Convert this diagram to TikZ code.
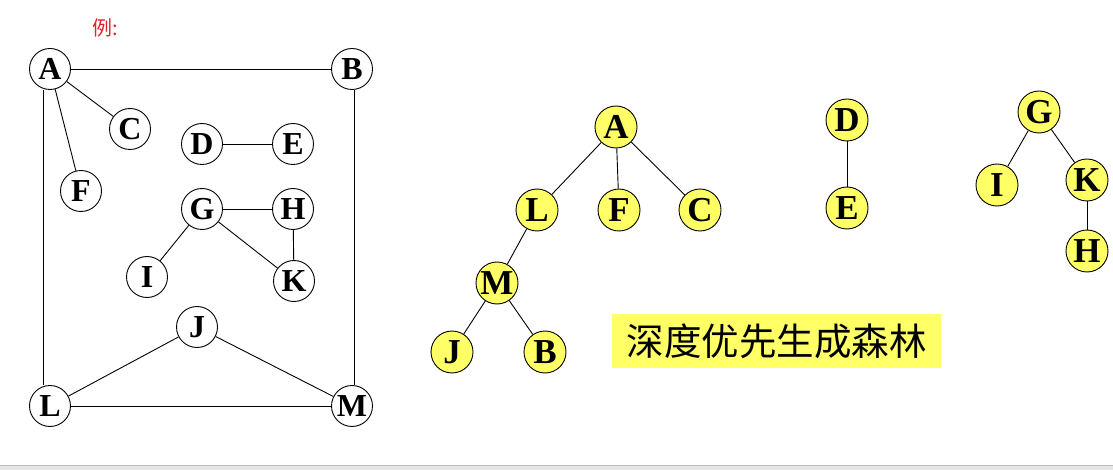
\documentclass[tikz,border=0pt]{standalone}
\usepackage{fontspec}
\setmainfont{Liberation Serif}
\newfontfamily\cjk{Noto Sans CJK SC}
\definecolor{treefill}{HTML}{FFFF66}
\definecolor{labred}{HTML}{E8202A}
\begin{document}
\begin{tikzpicture}[x=1pt,y=-1pt,
  gnode/.style={circle,draw=black,line width=0.9pt,minimum size=41pt,inner sep=0pt,font=\fontsize{32}{32}\selectfont\bfseries},
  tnode/.style={gnode,fill=treefill,minimum size=42pt,font=\fontsize{35}{35}\selectfont\bfseries},
  edge/.style={draw=black,line width=0.9pt}]
\useasboundingbox (0,0) rectangle (1113,470);
\fill[white] (0,0) rectangle (1113,470);
\fill[black!10] (0,465) rectangle (1113,470);
\draw[black!25,line width=0.8pt] (0,465) -- (1113,465);

\node[text=labred,font=\cjk\fontsize{20}{20}\selectfont] (ex) at (105,28) {例:};

% left graph
\node[gnode] (A) at (50,69) {A};
\node[gnode] (B) at (352,69) {B};
\node[gnode] (C) at (130,129) {C};
\node[gnode] (D) at (202,144) {D};
\node[gnode] (E) at (293,144) {E};
\node[gnode] (F) at (81,191) {F};
\node[gnode] (G) at (202,209) {G};
\node[gnode] (H) at (293,209) {H};
\node[gnode] (I) at (147,277) {I};
\node[gnode] (K) at (294,281) {K};
\node[gnode] (J) at (197,327) {J};
\node[gnode] (L) at (50,406) {L};
\node[gnode] (M) at (352,406) {M};

\draw[edge] (A) -- (B);
\draw[edge] (A) -- (C);
\draw[edge] (A) -- (F);
\draw[edge] ([xshift=-7pt]A.south) -- ([xshift=-7pt]L.north);
\draw[edge] ([xshift=2pt]B.south) -- ([xshift=2pt]M.north);
\draw[edge] (D) -- (E);
\draw[edge] (G) -- (H);
\draw[edge] (G) -- (I);
\draw[edge] (G) -- (K);
\draw[edge] (H) -- (K);
\draw[edge] (J) -- (L);
\draw[edge] (J) -- (M);
\draw[edge] (L) -- (M);

% spanning forest
\node[tnode] (tA) at (616,127) {A};
\node[tnode] (tL) at (537,210) {L};
\node[tnode] (tF) at (619,210) {F};
\node[tnode] (tC) at (700,210) {C};
\node[tnode] (tM) at (497,283) {M};
\node[tnode] (tJ) at (452,352) {J};
\node[tnode] (tB) at (545,352) {B};
\node[tnode] (tD) at (847,120) {D};
\node[tnode] (tE) at (847,208) {E};
\node[tnode] (tG) at (1039,112) {G};
\node[tnode] (tI) at (997,185) {I};
\node[tnode] (tK) at (1087,180) {K};
\node[tnode] (tH) at (1087,251) {H};

\draw[edge] (tA) -- (tL);
\draw[edge] (tA) -- (tF);
\draw[edge] (tA) -- (tC);
\draw[edge] (tL) -- (tM);
\draw[edge] (tM) -- (tJ);
\draw[edge] (tM) -- (tB);
\draw[edge] (tD) -- (tE);
\draw[edge] (tG) -- (tI);
\draw[edge] (tG) -- (tK);
\draw[edge] (tK) -- (tH);

\node[fill=treefill,minimum width=329pt,minimum height=54pt,inner sep=0pt,font=\cjk\fontsize{37.5}{37.5}\selectfont] (title) at (776.5,341) {深度优先生成森林};
\end{tikzpicture}
\end{document}
